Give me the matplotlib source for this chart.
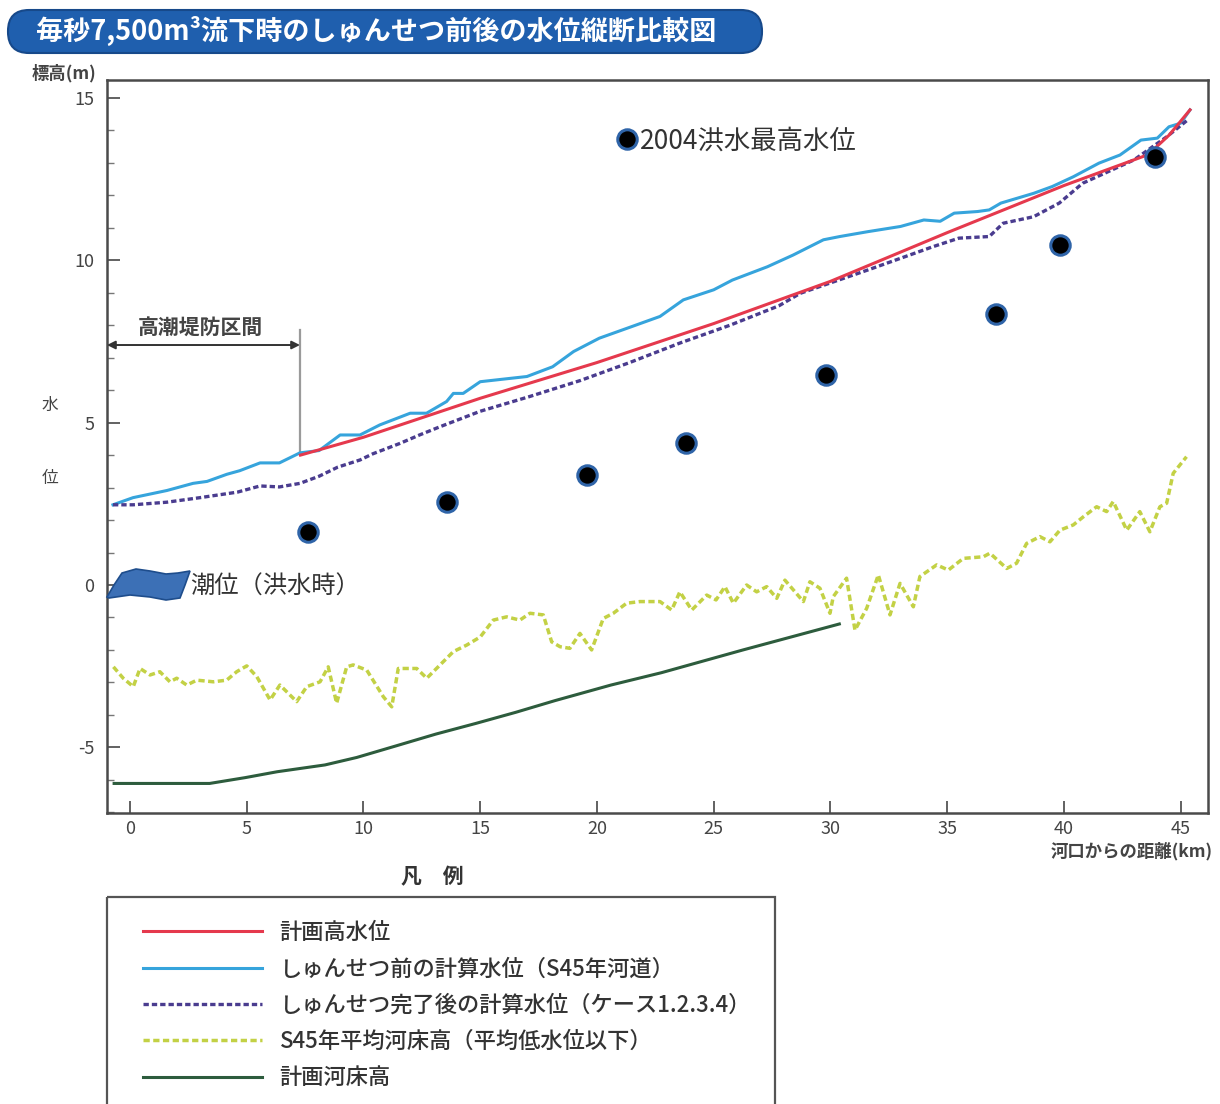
import matplotlib
matplotlib.use('Agg')
import matplotlib.pyplot as plt
import matplotlib.transforms as mtransforms
from matplotlib.patches import FancyBboxPatch, Polygon, Rectangle

plt.rcParams['font.family'] = ['Noto Sans CJK JP', 'DejaVu Sans']
plt.rcParams['axes.unicode_minus'] = False

TITLE = '毎秒7,500m³流下時のしゅんせつ前後の水位縦断比較図'
LABELS = ['計画高水位', 'しゅんせつ前の計算水位（S45年河道）',
          'しゅんせつ完了後の計算水位（ケース1.2.3.4）',
          'S45年平均河床高（平均低水位以下）', '計画河床高']

# 計画高水位
red_x = [7.3, 10, 15, 20, 25, 30, 35, 40, 43.6, 44.5, 45.4]
red_y = [4.0, 4.55, 5.75, 6.85, 8.05, 9.35, 10.85, 12.3, 13.25, 13.85, 14.63]

# しゅんせつ前の計算水位
blue_x = [-0.73, 0.13, 1.58, 2.7, 3.3, 4.15, 4.7, 5.57, 6.4, 7.28, 8.1, 9.0, 9.85,
          10.7, 12.0, 12.7, 13.56, 13.85, 14.27, 15.0, 17.0, 18.1, 19.0, 20.1, 21.5,
          22.7, 23.7, 25.0, 25.8, 27.3, 28.4, 29.7, 30.4, 31.6, 33.0, 34.0, 34.7,
          35.3, 36.3, 36.8, 37.3, 38.7, 39.5, 40.4, 41.5, 42.4, 43.3, 44.0, 44.5,
          45.0, 45.4]
blue_y = [2.47, 2.69, 2.91, 3.13, 3.19, 3.41, 3.52, 3.76, 3.76, 4.07, 4.14, 4.62, 4.62,
          4.93, 5.29, 5.29, 5.65, 5.9, 5.9, 6.26, 6.42, 6.72, 7.19, 7.6, 7.96,
          8.27, 8.78, 9.09, 9.39, 9.8, 10.16, 10.63, 10.73, 10.88, 11.04, 11.24, 11.2,
          11.45, 11.5, 11.55, 11.76, 12.06, 12.27, 12.57, 12.99, 13.24, 13.7, 13.76, 14.11,
          14.22, 14.63]

# しゅんせつ完了後の計算水位
purple_x = [-0.73, 0.13, 1.58, 3.0, 4.6, 5.57, 6.4, 7.28, 8.1, 8.9, 9.85, 10.4, 11.56,
            12.4, 13.3, 15.0, 17.1, 19.3, 21.4, 23.55, 25.7, 27.8, 28.7, 31.6, 34.4,
            35.5, 36.8, 37.4, 38.7, 39.8, 40.8, 43.0, 44.4, 45.3]
purple_y = [2.47, 2.47, 2.55, 2.69, 2.86, 3.05, 3.02, 3.13, 3.35, 3.63, 3.85, 4.04, 4.36,
            4.62, 4.88, 5.35, 5.8, 6.3, 6.85, 7.45, 8.0, 8.6, 8.98, 9.7, 10.42,
            10.68, 10.73, 11.14, 11.34, 11.76, 12.37, 13.09, 13.8, 14.32]

# S45年平均河床高
yellow_x = [-0.71, -0.29, 0.14, 0.43, 0.86, 1.28, 1.71, 2.0, 2.43, 2.86, 3.57, 4.14,
            4.57, 5.0, 5.43, 6.0, 6.42, 7.14, 7.57, 8.14, 8.49, 8.85, 9.28, 9.56,
            10.14, 10.85, 11.21, 11.49, 12.28, 12.71, 13.28, 13.85, 14.42, 15.0, 15.56,
            16.13, 16.7, 17.13, 17.7, 18.06, 18.42, 18.84, 19.27, 19.77, 20.27, 20.7,
            21.27, 21.84, 22.7, 23.2, 23.55, 24.06, 24.7, 25.1, 25.48, 25.84, 26.41,
            26.84, 27.27, 27.7, 28.05, 28.41, 28.84, 29.12, 29.55, 29.98, 30.12, 30.69,
            31.05, 31.55, 32.05, 32.55, 32.98, 33.55, 33.83, 34.55, 35.05, 35.69, 36.55,
            36.83, 37.55, 37.97, 38.4, 38.97, 39.4, 39.83, 40.4, 40.83, 41.4, 41.83,
            42.11, 42.69, 43.25, 43.68, 44.11, 44.4, 44.68, 45.25]
yellow_y = [-2.52, -2.87, -3.13, -2.57, -2.77, -2.67, -2.98, -2.87, -3.08, -2.93, -2.98, -2.93,
            -2.67, -2.49, -2.82, -3.54, -3.08, -3.59, -3.13, -2.98, -2.52, -3.64, -2.52, -2.46,
            -2.62, -3.44, -3.75, -2.57, -2.57, -2.87, -2.46, -2.05, -1.85, -1.6, -1.08,
            -0.98, -1.08, -0.87, -0.92, -1.75, -1.9, -1.95, -1.49, -2.0, -1.03, -0.87,
            -0.56, -0.51, -0.51, -0.77, -0.21, -0.77, -0.31, -0.46, -0.05, -0.56, 0.0,
            -0.21, -0.05, -0.41, 0.15, -0.15, -0.51, 0.10, -0.10, -0.87, -0.36, 0.21,
            -1.39, -0.72, 0.31, -0.92, 0.05, -0.67, 0.26, 0.62, 0.46, 0.82, 0.87,
            0.98, 0.51, 0.67, 1.28, 1.49, 1.33, 1.69, 1.85, 2.1, 2.41, 2.26,
            2.57, 1.69, 2.26, 1.64, 2.41, 2.52, 3.44, 3.95]

# 計画河床高
green_x = [-0.68, 3.41, 4.94, 6.3, 8.35, 9.71, 11.41, 13.1, 14.82, 16.52, 18.2, 20.6, 22.76, 26.25, 30.38]
green_y = [-6.11, -6.11, -5.93, -5.75, -5.54, -5.31, -4.95, -4.59, -4.26, -3.92, -3.56, -3.08, -2.7, -2.0, -1.2]

# 2004洪水最高水位
flood_x = [7.62, 13.58, 19.57, 23.81, 29.81, 37.09, 39.83, 43.9]
flood_y = [1.63, 2.56, 3.39, 4.37, 6.47, 8.35, 10.47, 13.18]

SURGE_END_KM = 7.28
W, H = 1220, 1104

fig = plt.figure(figsize=(W / 100, H / 100), dpi=100)
# transform in image pixels, origin at top-left
px = mtransforms.Affine2D().scale(1 / 100, -1 / 100).translate(0, H / 100) + fig.dpi_scale_trans

ax = fig.add_axes([107 / W, 1 - 813 / H, (1208 - 107) / W, (813 - 80) / H])
ax.set_xlim(-0.985, 46.17)
ax.set_ylim(-7.02, 15.55)

lred, = ax.plot(red_x, red_y, color='#e5394d', lw=2.2, zorder=4)
lblue, = ax.plot(blue_x, blue_y, color='#36a4dc', lw=2.2, zorder=3)
lpur, = ax.plot(purple_x, purple_y, color='#4a3c8f', lw=2.4, dashes=(1.6, 0.9), zorder=3)
lyel, = ax.plot(yellow_x, yellow_y, color='#c3d145', lw=2.5, dashes=(1.8, 1.0), zorder=3)
lgrn, = ax.plot(green_x, green_y, color='#2d5c3d', lw=2.2, zorder=3)
ax.plot(flood_x, flood_y, 'o', ms=14, mfc='black', mec='#2f64a8', mew=2.2, zorder=6)

# 高潮堤防区間
ax.annotate('', xy=(ax.get_xlim()[0], 7.39), xytext=(SURGE_END_KM, 7.39),
            arrowprops=dict(arrowstyle='<|-|>', color='#333333', lw=1.4,
                            mutation_scale=12, shrinkA=0, shrinkB=0))
ax.plot([SURGE_END_KM, SURGE_END_KM], [4.05, 7.85], color='#9a9a9a', lw=1.6, zorder=2)
ax.text(3.0, 7.95, '高潮堤防区間', ha='center', va='center', fontsize=15,
        color='#444444', fontweight='bold')

ax.set_xticks(range(0, 46, 5))
ax.set_yticks([-5, 0, 5, 10, 15])
ax.set_yticks(range(-7, 16), minor=True)
ax.tick_params(axis='both', which='major', direction='in', length=9, width=1.3,
               colors='#555555', labelcolor='#444444', labelsize=13)
ax.tick_params(axis='y', which='minor', direction='in', length=5, width=1.0, colors='#777777')
ax.tick_params(axis='y', which='major', pad=9)
ax.tick_params(axis='x', which='major', pad=5)
for s in ax.spines.values():
    s.set_color('#4a4a4a')
    s.set_linewidth(1.8)

# title bar
fig.patches.append(FancyBboxPatch((8, 10), 754, 43, boxstyle='round,pad=0,rounding_size=21',
                                  transform=px, fc='#1f5fae', ec='#17498a', lw=1.5))
fig.text(36, 31, TITLE, transform=px, color='white', fontsize=19.5, fontweight='bold',
         ha='left', va='center')

fig.text(64, 73, '標高(m)', transform=px, fontsize=12.5, color='#444444', fontweight='bold',
         ha='center', va='center')
fig.text(50, 405, '水', transform=px, fontsize=12, color='#444444', ha='center', va='center')
fig.text(50, 478, '位', transform=px, fontsize=12, color='#444444', ha='center', va='center')
fig.text(1213, 851, '河口からの距離(km)', transform=px, fontsize=12.5, color='#444444',
         fontweight='bold', ha='right', va='center')

# tide flag
flag = [(107, 597), (114, 585), (122, 573), (136, 569), (150, 571), (166, 574), (178, 573),
        (190, 571), (185, 585), (180, 598), (166, 600), (150, 597), (130, 595), (109, 598)]
fig.patches.append(Polygon(flag, closed=True, transform=px, fc='#3c70b6', ec='#1e4d8c', lw=1.2))
fig.text(190, 587, '潮位（洪水時）', transform=px, fontsize=17.5, color='#333333',
         ha='left', va='center')

# 2004 flood key
fig.lines.append(plt.Line2D([627], [139], transform=px, marker='o', ms=14, mfc='black',
                            mec='#2f64a8', mew=2.2, ls='none'))
fig.text(640, 141, '2004洪水最高水位', transform=px, fontsize=19, color='#333333',
         ha='left', va='center')

# legend
fig.text(432, 877, '凡　例', transform=px, fontsize=15, color='#333333', fontweight='bold',
         ha='center', va='center')
fig.patches.append(Rectangle((107, 897), 668, 230, transform=px, fc='none', ec='#555555', lw=1.6))
leg = fig.legend([lred, lblue, lpur, lyel, lgrn], LABELS, loc='upper left',
                 bbox_to_anchor=(143, 921), bbox_transform=px, frameon=False,
                 prop={'size': 16, 'weight': 'medium'}, handlelength=5.35,
                 handletextpad=0.8, labelspacing=0.6, borderpad=0, borderaxespad=0)
for t in leg.get_texts():
    t.set_color('#333333')

fig.savefig('out.png', dpi=100)
